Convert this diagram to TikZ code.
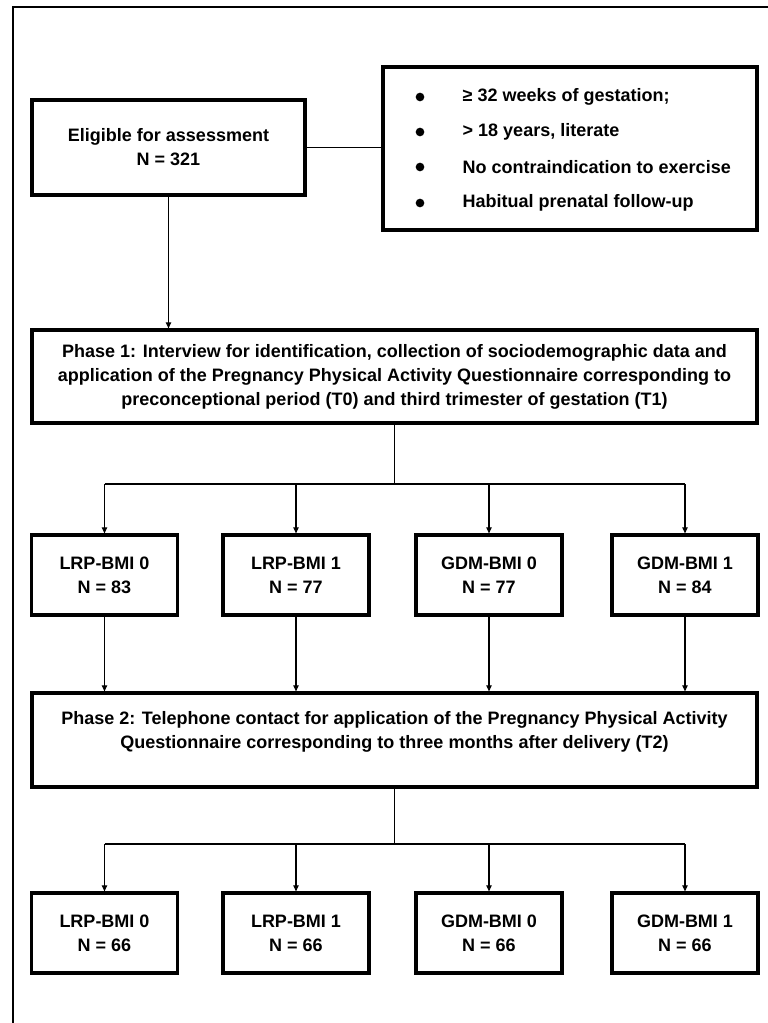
\documentclass[tikz,border=0pt]{standalone}
\usepackage{fontspec}
\setmainfont{Liberation Sans}
\usetikzlibrary{arrows.meta}

\begin{document}
\begin{tikzpicture}[x=0.75pt, y=-0.75pt, font=\fontsize{13.5}{18}\selectfont\bfseries,
    main/.style = {draw, line width=2.4pt, align=center, inner sep=0pt},
    grp/.style = {main, minimum width=109.5pt, minimum height=60pt},
    dot/.style = {circle, fill, inner sep=0pt, minimum size=6.5pt},
    conn/.style = {line width=0.8pt},
    arr/.style = {conn, -{Triangle[length=4.5pt, width=4pt]}}]
    \useasboundingbox (0,0) rectangle (767,1023);
    % outer frame, only its left and top sides are inside the picture
    \draw[line width=1.9pt] (13,1030) -- (13,7) -- (775,7);

    \node[main, minimum width=204.75pt, minimum height=71.25pt] (elig) at (168.5,147.5) {Eligible for assessment\\N = 321};
    \node[main, minimum width=280.5pt, minimum height=122.25pt] (crit) at (570,148.5) {};
    \foreach \y/\txt [count=\i] in {97/{≥ 32 weeks of gestation;}, 132/{> 18 years, literate}, 167/{No contraindication to exercise}, 203/{Habitual prenatal follow-up}} {
        \node[dot] (dot\i) at (420,\y) {};
        \node[anchor=west] (item\i) at (458,\y) {\txt};
    }

    \node[main, minimum width=543.75pt, minimum height=69.75pt] (ph1) at (394.5,376.5) {Phase 1: Interview for identification, collection of sociodemographic data and\\application of the Pregnancy Physical Activity Questionnaire corresponding to\\preconceptional period (T0) and third trimester of gestation (T1)};

    \node[grp] (g1) at (104.5,575) {LRP-BMI 0\\N = 83};
    \node[grp] (g2) at (296,575) {LRP-BMI 1\\N = 77};
    \node[grp] (g3) at (489,575) {GDM-BMI 0\\N = 77};
    \node[grp] (g4) at (685,575) {GDM-BMI 1\\N = 84};

    \node[main, minimum width=543.75pt, minimum height=70.5pt] (ph2) at (394.5,740) {};
    \node[align=center] (ph2txt) at (394.5,731.5) {Phase 2: Telephone contact for application of the Pregnancy Physical Activity\\Questionnaire corresponding to three months after delivery (T2)};

    \node[grp] (f1) at (104.5,933) {LRP-BMI 0\\N = 66};
    \node[grp] (f2) at (296,933) {LRP-BMI 1\\N = 66};
    \node[grp] (f3) at (489,933) {GDM-BMI 0\\N = 66};
    \node[grp] (f4) at (685,933) {GDM-BMI 1\\N = 66};

    \coordinate (s1) at (394.5,484);
    \coordinate (s2) at (394.5,844);

    \draw[conn] (elig.east) -- (elig.east -| crit.west);
    \draw[arr] (elig.south) -- (elig.south |- ph1.north);
    \draw[conn] (ph1.south) -- (s1);
    \draw[conn] (g1.north |- s1) -- (g4.north |- s1);
    \draw[conn] (ph2.south) -- (s2);
    \draw[conn] (f1.north |- s2) -- (f4.north |- s2);
    \foreach \i in {1,...,4} {
        \draw[arr] (g\i.north |- s1) -- (g\i.north);
        \draw[arr] (g\i.south) -- (g\i.south |- ph2.north);
        \draw[arr] (f\i.north |- s2) -- (f\i.north);
    }
\end{tikzpicture}
\end{document}
